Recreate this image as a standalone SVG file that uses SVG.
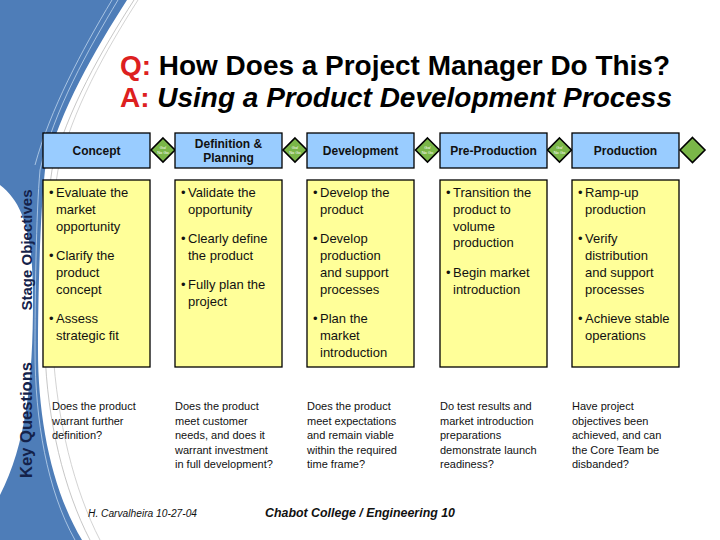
<svg xmlns="http://www.w3.org/2000/svg" width="720" height="540" viewBox="0 0 720 540">
<style>
.hdr{fill:#99CCFF;stroke:#000;stroke-width:1.3}
.obj{fill:#FFFF99;stroke:#000;stroke-width:1.3}
.gate{fill:#7AB648;stroke:#000;stroke-width:1.6}
.ht{font-family:"Liberation Sans",Arial,sans-serif;font-size:12px;font-weight:bold;fill:#111;text-anchor:middle}
.bt{font-family:"Liberation Sans",Arial,sans-serif;font-size:13px;fill:#111}
.kq{font-family:"Liberation Sans",Arial,sans-serif;font-size:11px;fill:#111}
.gt{font-family:"Liberation Sans",Arial,sans-serif;font-size:4px;fill:#fff;text-anchor:middle}
.side{font-family:"Liberation Sans",Arial,sans-serif;font-weight:bold;fill:#14224A;text-anchor:middle}
.title{font-family:"Liberation Sans",Arial,sans-serif;font-size:27px;font-weight:bold;fill:#000}
.red{fill:#DD2020}
</style>
<rect width="720" height="540" fill="#fff"/>
<g id="background">
<path d="M0,0 H127 C95,50 60,110 45,170 C40,215 38,300 38,350 C38,420 52,490 82,540 H0 V495 C26,445 33,380 33,300 C33,240 26,205 0,185 Z" fill="#4E7DB8"/>
<path d="M118,0 C88,50 54,110 40,170 C36,215 35,300 35,350 C35,420 47,490 75,540" fill="none" stroke="#BFD6EE" stroke-width="0.8"/>
<path d="M112,0 C82,50 50,110 35,165" fill="none" stroke="#BFD6EE" stroke-width="0.8"/>
<path d="M134,0 C102,50 67,110 52,170 C45,215 44,300 45,350 C47,420 64,490 90,540" fill="none" stroke="#B8B8B8" stroke-width="0.8"/>
<path d="M138,0 C106,50 72,110 58,170 C50,215 50,300 53,350 C57,420 74,490 100,540" fill="none" stroke="#C8C8C8" stroke-width="0.8"/>
</g>
<g id="title">
<text class="title" x="120" y="75" textLength="550" lengthAdjust="spacingAndGlyphs"><tspan class="red">Q:</tspan> How Does a Project Manager Do This?</text>
<text class="title" x="120" y="107" textLength="552" lengthAdjust="spacingAndGlyphs"><tspan class="red">A:</tspan> <tspan font-style="italic">Using a Product Development Process</tspan></text>
</g>
<g id="side-labels">
<text class="side" font-size="15" transform="translate(32,250) rotate(-90)" textLength="121" lengthAdjust="spacingAndGlyphs">Stage Objectives</text>
<text class="side" font-size="16" transform="translate(32,420) rotate(-90)" textLength="116" lengthAdjust="spacingAndGlyphs">Key Questions</text>
</g>
<g id="connectors">
<g id="gate1"><path class="gate" d="M163,138 L175,150 L163,162 L151,150 Z"/><text class="gt" x="163" y="149">Go/</text><text class="gt" x="163" y="154">No Go</text></g>
<g id="gate2"><path class="gate" d="M295,138 L307,150 L295,162 L283,150 Z"/><text class="gt" x="295" y="149">Go/</text><text class="gt" x="295" y="154">No Go</text></g>
<g id="gate3"><path class="gate" d="M427.5,138 L439.5,150 L427.5,162 L415.5,150 Z"/><text class="gt" x="427.5" y="149">Go/</text><text class="gt" x="427.5" y="154">No Go</text></g>
<g id="gate4"><path class="gate" d="M559.5,138 L571.5,150 L559.5,162 L547.5,150 Z"/><text class="gt" x="559.5" y="149">Go/</text><text class="gt" x="559.5" y="154">No Go</text></g>
<g id="gate5"><path class="gate" d="M692.5,137.5 L705,150 L692.5,162.5 L680,150 Z"/></g>
</g>
<g id="concept">
<rect class="hdr" x="43" y="133" width="107" height="35"/>
<text class="ht" x="96.5" y="155">Concept</text>
<rect class="obj" x="43" y="180" width="107" height="187"/>
<text class="bt"><tspan x="49" y="197">•</tspan><tspan x="56" y="197">Evaluate the</tspan><tspan x="56" y="214">market</tspan><tspan x="56" y="231">opportunity</tspan><tspan x="49" y="260">•</tspan><tspan x="56" y="260">Clarify the</tspan><tspan x="56" y="277">product</tspan><tspan x="56" y="294">concept</tspan><tspan x="49" y="323">•</tspan><tspan x="56" y="323">Assess</tspan><tspan x="56" y="340">strategic fit</tspan></text>
<text class="kq"><tspan x="52" y="410">Does the product</tspan><tspan x="52" y="424.5">warrant further</tspan><tspan x="52" y="439">definition?</tspan></text>
</g>
<g id="definition">
<rect class="hdr" x="175" y="133" width="107" height="35"/>
<text class="ht"><tspan x="228.5" y="148">Definition &amp;</tspan><tspan x="228.5" y="162">Planning</tspan></text>
<rect class="obj" x="175" y="180" width="107" height="187"/>
<text class="bt"><tspan x="181" y="197">•</tspan><tspan x="188" y="197">Validate the</tspan><tspan x="188" y="214">opportunity</tspan><tspan x="181" y="243">•</tspan><tspan x="188" y="243">Clearly define</tspan><tspan x="188" y="260">the product</tspan><tspan x="181" y="289">•</tspan><tspan x="188" y="289">Fully plan the</tspan><tspan x="188" y="306">project</tspan></text>
<text class="kq"><tspan x="175" y="410">Does the product</tspan><tspan x="175" y="424.5">meet customer</tspan><tspan x="175" y="439">needs, and does it</tspan><tspan x="175" y="453.5">warrant investment</tspan><tspan x="175" y="468">in full development?</tspan></text>
</g>
<g id="development">
<rect class="hdr" x="307" y="133" width="107" height="35"/>
<text class="ht" x="360.5" y="155">Development</text>
<rect class="obj" x="307" y="180" width="107" height="187"/>
<text class="bt"><tspan x="313" y="197">•</tspan><tspan x="320" y="197">Develop the</tspan><tspan x="320" y="214">product</tspan><tspan x="313" y="243">•</tspan><tspan x="320" y="243">Develop</tspan><tspan x="320" y="260">production</tspan><tspan x="320" y="277">and support</tspan><tspan x="320" y="294">processes</tspan><tspan x="313" y="323">•</tspan><tspan x="320" y="323">Plan the</tspan><tspan x="320" y="340">market</tspan><tspan x="320" y="357">introduction</tspan></text>
<text class="kq"><tspan x="307" y="410">Does the product</tspan><tspan x="307" y="424.5">meet expectations</tspan><tspan x="307" y="439">and remain viable</tspan><tspan x="307" y="453.5">within the required</tspan><tspan x="307" y="468">time frame?</tspan></text>
</g>
<g id="pre-production">
<rect class="hdr" x="440" y="133" width="107" height="35"/>
<text class="ht" x="493.5" y="155">Pre-Production</text>
<rect class="obj" x="440" y="180" width="107" height="187"/>
<text class="bt"><tspan x="446" y="197">•</tspan><tspan x="453" y="197">Transition the</tspan><tspan x="453" y="214">product to</tspan><tspan x="453" y="231">volume</tspan><tspan x="453" y="247">production</tspan><tspan x="446" y="277">•</tspan><tspan x="453" y="277">Begin market</tspan><tspan x="453" y="294">introduction</tspan></text>
<text class="kq"><tspan x="440" y="410">Do test results and</tspan><tspan x="440" y="424.5">market introduction</tspan><tspan x="440" y="439">preparations</tspan><tspan x="440" y="453.5">demonstrate launch</tspan><tspan x="440" y="468">readiness?</tspan></text>
</g>
<g id="production">
<rect class="hdr" x="572" y="133" width="107" height="35"/>
<text class="ht" x="625.5" y="155">Production</text>
<rect class="obj" x="572" y="180" width="107" height="187"/>
<text class="bt"><tspan x="578" y="197">•</tspan><tspan x="585" y="197">Ramp-up</tspan><tspan x="585" y="214">production</tspan><tspan x="578" y="243">•</tspan><tspan x="585" y="243">Verify</tspan><tspan x="585" y="260">distribution</tspan><tspan x="585" y="277">and support</tspan><tspan x="585" y="294">processes</tspan><tspan x="578" y="323">•</tspan><tspan x="585" y="323">Achieve stable</tspan><tspan x="585" y="340">operations</tspan></text>
<text class="kq"><tspan x="572" y="410">Have project</tspan><tspan x="572" y="424.5">objectives been</tspan><tspan x="572" y="439">achieved, and can</tspan><tspan x="572" y="453.5">the Core Team be</tspan><tspan x="572" y="468">disbanded?</tspan></text>
</g>
<g id="footer">
<text x="88" y="517" font-family="'Liberation Sans',Arial,sans-serif" font-size="10" font-style="italic" fill="#111" textLength="109" lengthAdjust="spacingAndGlyphs">H. Carvalheira  10-27-04</text>
<text x="265" y="517" font-family="'Liberation Sans',Arial,sans-serif" font-size="12" font-weight="bold" font-style="italic" fill="#111" textLength="190" lengthAdjust="spacingAndGlyphs">Chabot College  /  Engineering 10</text>
</g>
</svg>
